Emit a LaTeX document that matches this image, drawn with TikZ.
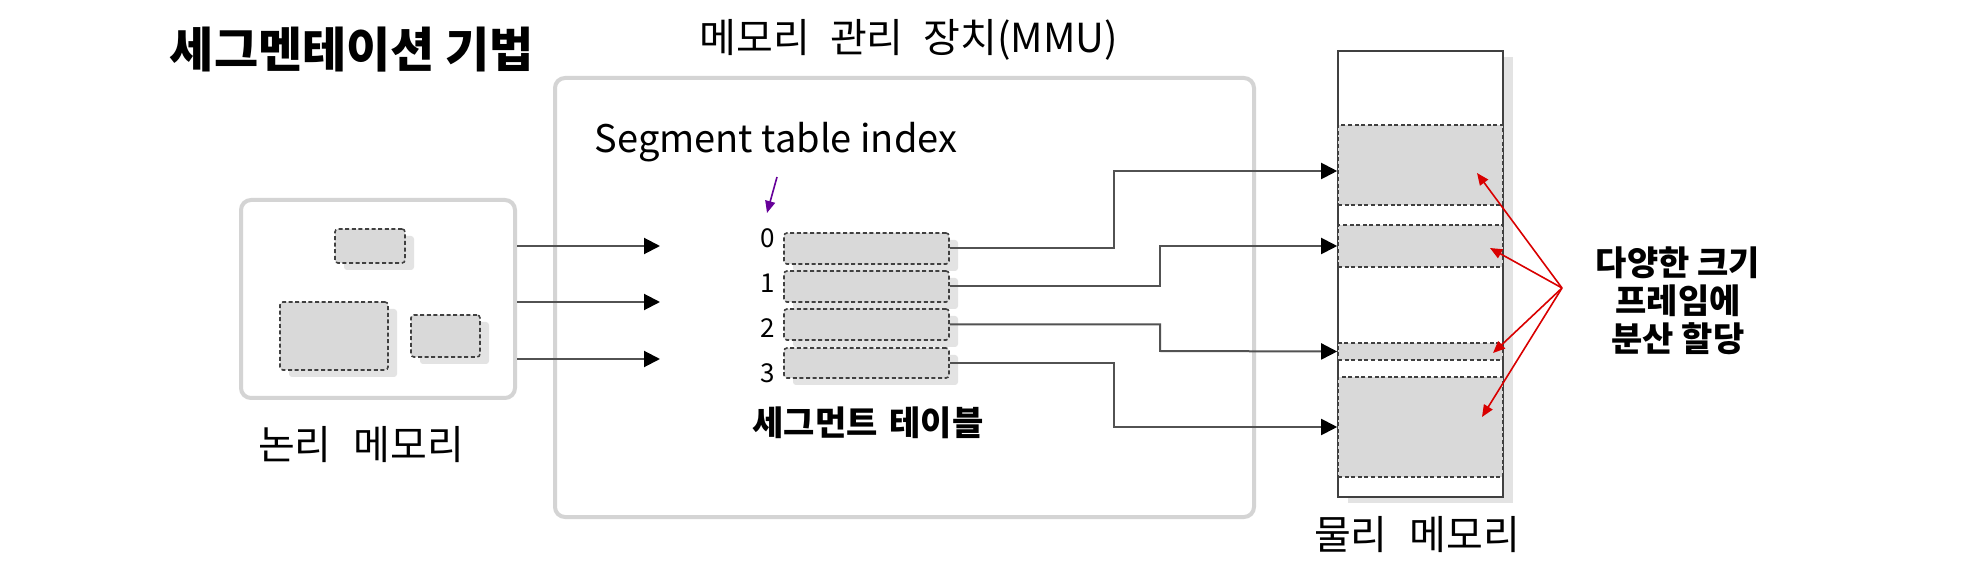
\documentclass[tikz,border=0pt]{standalone}
\usepackage{fontspec}
\setmainfont{Noto Sans CJK KR}
\usetikzlibrary{arrows.meta,fit,shadows,calc}
\begin{document}
\begin{tikzpicture}[x=0.5pt,y=-0.5pt,
  frame/.style={draw=black!17, line width=2pt, rounded corners=5pt, inner sep=0pt},
  seg/.style={draw=black!75, dash pattern=on 2pt off 1.3pt, line width=0.8pt, fill=black!15, inner sep=0pt},
  rseg/.style={seg, rounded corners=1.5pt},
  shad/.style={drop shadow={shadow xshift=4.5pt, shadow yshift=-3.5pt, fill=black!11, opacity=1}},
  conn/.style={draw=black!68, line width=1pt, -{Triangle[length=8pt,width=8pt,color=black]}},
  redarr/.style={draw=red!85!black, line width=0.8pt, -{Triangle[length=6pt,width=5pt]}},
  purarr/.style={draw=violet!80!blue, line width=0.8pt, -{Triangle[length=6pt,width=5pt]}},
  lbl/.style={inner sep=0pt, font=\fontsize{20pt}{24pt}\selectfont},
  numlbl/.style={inner sep=0pt, font=\fontsize{13pt}{15pt}\selectfont},
]
\useasboundingbox (0,0) rectangle (1978,572);
\fill[white] (0,0) rectangle (1978,572);

% title
\node[lbl, font=\fontsize{24pt}{28pt}\bfseries\selectfont] (title) at (352,50) {세그멘테이션 기법};

% logical memory
\node[frame, fit={(241,200)(515,398)}] (lm) {};
\node[rseg, shad, fit={(335,229)(405,263)}] (l0) {};
\node[rseg, shad, fit={(280,302)(388,370)}] (l1) {};
\node[rseg, shad, fit={(411,315)(480,357)}] (l2) {};
\node[lbl] (lmlabel) at (361,445) {논리\hspace{0.55em}메모리};

% MMU
\node[frame, fit={(555,78)(1254,517)}] (mmu) {};
\node[lbl] (mmulabel) at (909,40) {메모리\hspace{0.5em}관리\hspace{0.5em}장치(MMU)};
\node[lbl, font=\fontsize{19pt}{22pt}\selectfont] (stidx) at (776,142) {Segment table index};
\coordinate (i0) at (777,177);
\coordinate (i1) at (767,213);
\draw[purarr] (i0) -- (i1);

\node[rseg, shad, fit={(784,233)(949,264)}] (t0) {};
\node[rseg, shad, fit={(784,271)(949,302)}] (t1) {};
\node[rseg, shad, fit={(784,309)(949,340)}] (t2) {};
\node[rseg, shad, fit={(784,348)(949,378)}] (t3) {};
\node[numlbl] (n0) at (768,238) {0};
\node[numlbl] (n1) at (768,283) {1};
\node[numlbl] (n2) at (768,328) {2};
\node[numlbl] (n3) at (768,373) {3};
\node[lbl, font=\fontsize{17pt}{20pt}\bfseries\selectfont] (stlabel) at (868,423) {세그먼트\hspace{0.35em}테이블};

% arrows logical -> MMU
\coordinate (a0) at (660,246);
\coordinate (a1) at (660,302);
\coordinate (a2) at (660,359);
\draw[conn] (a0 -| lm.east) -- (a0);
\draw[conn] (a1 -| lm.east) -- (a1);
\draw[conn] (a2 -| lm.east) -- (a2);

% physical memory
\node[draw=black!75, line width=1pt, fill=white, inner sep=0pt,
      drop shadow={shadow xshift=5pt, shadow yshift=-3pt, fill=black!11, opacity=1},
      fit={(1338,51)(1503,497)}] (pm) {};
\node[seg, fit={(1338,125)(1503,205)}] (p0) {};
\node[seg, fit={(1338,225)(1503,267)}] (p1) {};
\node[seg, fit={(1338,343)(1503,360)}] (p2) {};
\node[seg, fit={(1338,377)(1503,477)}] (p3) {};
\node[lbl] (pmlabel) at (1417,535) {물리\hspace{0.55em}메모리};

% table -> physical
\draw[conn] (t0.east) -| (1114,171) -- ([yshift=-3pt]p0.west);
\draw[conn] (t1.east) -| (1160,246) -- (p1.west);
\draw[conn] (t2.east) -| (1160,351) -- (p2.west);
\draw[conn] (t3.east) -| (1114,427) -- (p3.west);

% red annotation
\coordinate (r) at (1562,288);
\coordinate (r0) at (1477,173);
\coordinate (r1) at (1490,248);
\coordinate (r2) at (1493,353);
\coordinate (r3) at (1482,417);
\draw[redarr] (r) -- (r0);
\draw[redarr] (r) -- (r1);
\draw[redarr] (r) -- (r2);
\draw[redarr] (r) -- (r3);
\node[lbl, font=\fontsize{17pt}{19pt}\bfseries\selectfont, align=center] (note) at (1678,301) {다양한 크기\\프레임에\\분산 할당};
\end{tikzpicture}
\end{document}
